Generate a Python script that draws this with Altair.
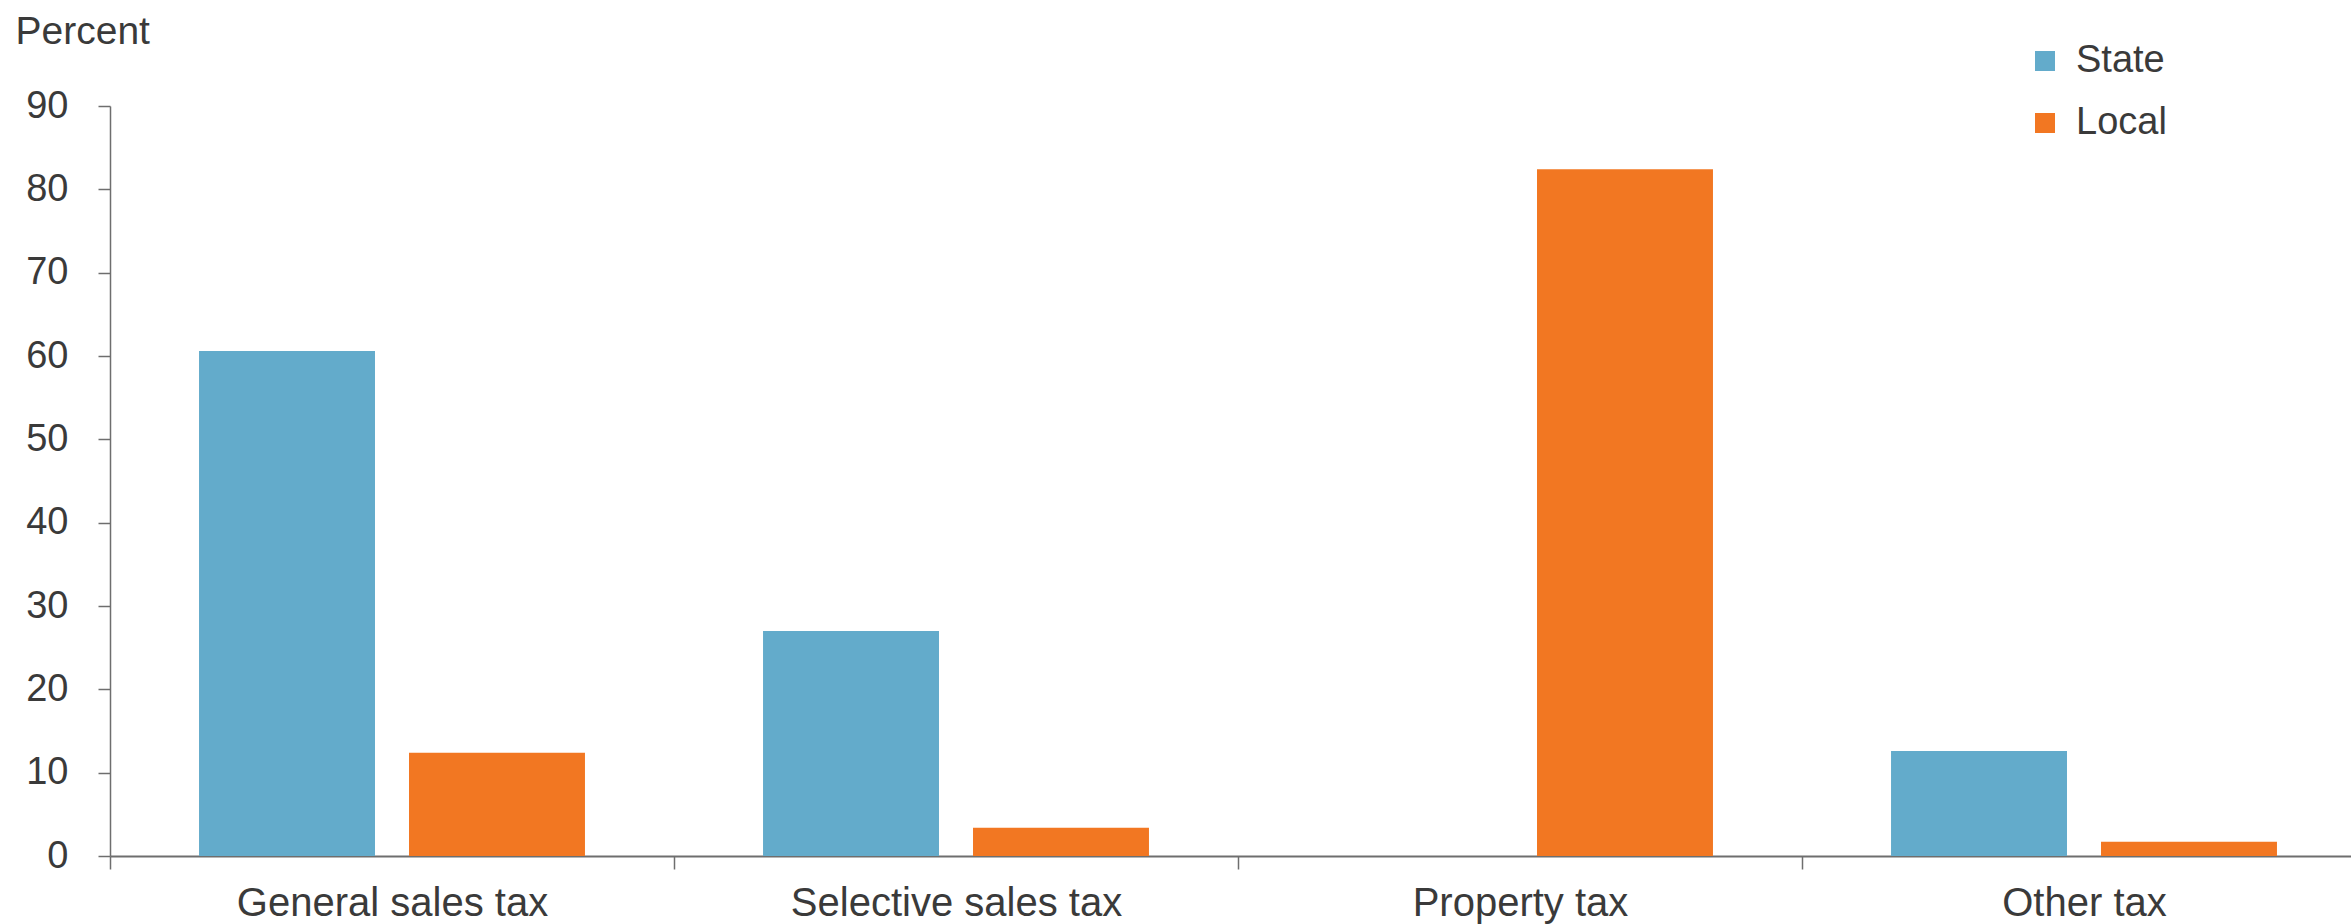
import altair as alt
import pandas as pd

categories = ["General sales tax", "Selective sales tax", "Property tax", "Other tax"]
state_values = [60.6, 27.0, 0.0, 12.6]
local_values = [12.4, 3.4, 82.4, 1.7]
series = ["State", "Local"]
colors = ["#63abcb", "#f27722"]
y_ticks = [0, 10, 20, 30, 40, 50, 60, 70, 80, 90]

rows = []
for c, s, l in zip(categories, state_values, local_values):
    rows.append({"category": c, "series": "State", "value": s})
    rows.append({"category": c, "series": "Local", "value": l})
df = pd.DataFrame(rows)

FONT = "Liberation Sans"
TXT = "#3a3a3a"
AX = "#6e6e6e"

chart = alt.Chart(df).mark_bar().encode(
    x=alt.X(
        "category:N", sort=categories,
        scale=alt.Scale(paddingInner=0, paddingOuter=0, range=[0, 2256]),
        axis=alt.Axis(title=None, labelAngle=0, tickBand="extent", grid=False, labelLimit=0,
                      domainColor=AX, domainWidth=2, tickColor=AX, tickWidth=1.5, tickSize=13,
                      labelFont=FONT, labelFontSize=40, labelColor=TXT, labelPadding=14),
    ),
    xOffset=alt.XOffset("series:N", sort=series,
                        scale=alt.Scale(paddingInner=0.162, paddingOuter=0.424)),
    y=alt.Y(
        "value:Q",
        scale=alt.Scale(domain=[0, 90], nice=False),
        axis=alt.Axis(values=y_ticks, title="Percent", titleAngle=0, titleAlign="left",
                      titleBaseline="alphabetic", titleX=-95, titleY=-63,
                      titleFont=FONT, titleFontSize=39, titleFontWeight="normal", titleColor=TXT,
                      grid=False, domainColor=AX, domainWidth=1.5, tickColor=AX, tickWidth=1.5,
                      tickSize=12, labelFont=FONT, labelFontSize=38, labelColor=TXT, labelPadding=30),
    ),
    color=alt.Color(
        "series:N", sort=series,
        scale=alt.Scale(domain=series, range=colors),
        legend=alt.Legend(title=None, orient="none", legendX=1916, legendY=-64,
                          symbolType="square", symbolSize=400, symbolStrokeWidth=0,
                          labelFont=FONT, labelFontSize=38, labelColor=TXT, labelOffset=12,
                          rowPadding=24, padding=0),
    ),
).properties(
    width=2240, height=750,
    autosize=alt.AutoSizeParams(type="none"),
    padding={"left": 110, "top": 106, "right": 1, "bottom": 68},
).configure_view(stroke=None)

chart.save("out.html", embed_options={"renderer": "svg", "actions": False})
